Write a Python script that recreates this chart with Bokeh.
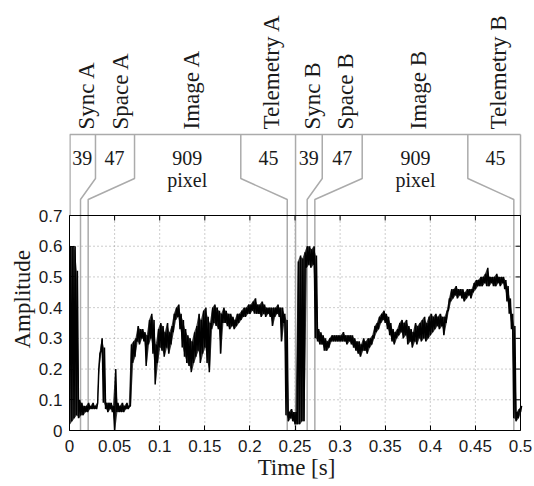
import math
from bokeh.plotting import figure
from bokeh.models import Range1d, FixedTicker, Title
from bokeh.embed import file_html
from bokeh.resources import INLINE
from bokeh.core.properties import value

# ---------------- data ----------------
t_step = 0.0025
amp_lo = [0.02, 0.03, 0.04, 0.05, 0.04, 0.05, 0.05, 0.06, 0.06, 0.07,
          0.07, 0.07, 0.07, 0.20, 0.26, 0.09, 0.07, 0.06, 0.07, 0.06,
          0.00, 0.06, 0.06, 0.06, 0.06, 0.07, 0.07, 0.08, 0.22, 0.24,
          0.29, 0.28, 0.30, 0.29, 0.21, 0.28, 0.30, 0.25, 0.15, 0.22,
          0.27, 0.26, 0.24, 0.27, 0.25, 0.28, 0.32, 0.36, 0.37, 0.33,
          0.27, 0.24, 0.22, 0.21, 0.19, 0.22, 0.24, 0.26, 0.22, 0.25,
          0.27, 0.22, 0.19, 0.33, 0.35, 0.34, 0.33, 0.25, 0.35, 0.35,
          0.34, 0.33, 0.34, 0.33, 0.34, 0.35, 0.36, 0.37, 0.37, 0.38,
          0.38, 0.39, 0.38, 0.38, 0.38, 0.37, 0.38, 0.37, 0.38, 0.37,
          0.34, 0.37, 0.38, 0.37, 0.29, 0.35, 0.05, 0.03, 0.04, 0.03,
          0.02, 0.02, 0.02, 0.03, 0.03, 0.53, 0.54, 0.53, 0.54, 0.30,
          0.29, 0.28, 0.28, 0.26, 0.26, 0.27, 0.29, 0.29, 0.29, 0.29,
          0.29, 0.29, 0.29, 0.28, 0.29, 0.28, 0.27, 0.26, 0.25, 0.24,
          0.26, 0.26, 0.25, 0.27, 0.28, 0.30, 0.32, 0.33, 0.35, 0.36,
          0.35, 0.33, 0.31, 0.29, 0.28, 0.30, 0.31, 0.32, 0.30, 0.31,
          0.28, 0.29, 0.27, 0.29, 0.28, 0.30, 0.29, 0.30, 0.29, 0.30,
          0.31, 0.32, 0.33, 0.34, 0.33, 0.34, 0.31, 0.35, 0.39, 0.42,
          0.43, 0.44, 0.43, 0.44, 0.43, 0.42, 0.43, 0.44, 0.43, 0.45,
          0.46, 0.47, 0.47, 0.47, 0.48, 0.47, 0.47, 0.48, 0.47, 0.47,
          0.48, 0.47, 0.48, 0.46, 0.42, 0.38, 0.33, 0.04, 0.03, 0.04,
          0.06]
amp_hi = [0.60, 0.60, 0.60, 0.52, 0.10, 0.09, 0.08, 0.08, 0.09, 0.08,
          0.09, 0.08, 0.09, 0.25, 0.30, 0.27, 0.09, 0.09, 0.09, 0.08,
          0.20, 0.09, 0.08, 0.09, 0.08, 0.09, 0.08, 0.28, 0.29, 0.30,
          0.34, 0.33, 0.33, 0.32, 0.31, 0.36, 0.38, 0.36, 0.28, 0.33,
          0.35, 0.34, 0.32, 0.35, 0.32, 0.34, 0.38, 0.40, 0.41, 0.38,
          0.36, 0.33, 0.31, 0.30, 0.29, 0.32, 0.34, 0.38, 0.36, 0.39,
          0.40, 0.37, 0.35, 0.40, 0.41, 0.40, 0.39, 0.38, 0.40, 0.39,
          0.38, 0.38, 0.37, 0.36, 0.38, 0.38, 0.39, 0.40, 0.40, 0.41,
          0.41, 0.42, 0.43, 0.41, 0.41, 0.42, 0.41, 0.40, 0.40, 0.40,
          0.40, 0.40, 0.41, 0.40, 0.40, 0.38, 0.36, 0.06, 0.07, 0.06,
          0.06, 0.55, 0.57, 0.56, 0.58, 0.60, 0.60, 0.59, 0.60, 0.57,
          0.33, 0.32, 0.31, 0.30, 0.29, 0.30, 0.31, 0.31, 0.31, 0.31,
          0.31, 0.32, 0.31, 0.31, 0.31, 0.31, 0.30, 0.29, 0.29, 0.28,
          0.30, 0.29, 0.30, 0.30, 0.31, 0.34, 0.35, 0.37, 0.38, 0.39,
          0.38, 0.37, 0.35, 0.33, 0.32, 0.33, 0.35, 0.36, 0.35, 0.36,
          0.34, 0.33, 0.32, 0.35, 0.34, 0.35, 0.36, 0.37, 0.35, 0.37,
          0.38, 0.37, 0.38, 0.37, 0.38, 0.37, 0.37, 0.39, 0.43, 0.46,
          0.46, 0.47, 0.46, 0.46, 0.46, 0.45, 0.46, 0.46, 0.46, 0.48,
          0.49, 0.49, 0.50, 0.50, 0.51, 0.53, 0.50, 0.50, 0.50, 0.51,
          0.50, 0.50, 0.50, 0.49, 0.47, 0.43, 0.38, 0.34, 0.06, 0.07,
          0.08]

# APT line format segments
segment_names = ["Sync A", "Space A", "Image A", "Telemetry A",
                 "Sync B", "Space B", "Image B", "Telemetry B"]
pixel_counts = ["39", "47", "909", "45", "39", "47", "909", "45"]
# boundaries: time of the grey marker in the plot, and position of the boundary in the header
boundary_plot_t = [0.0122, 0.0207, 0.2414, 0.2506, 0.2635, 0.2720, 0.4926]
boundary_head_t = [0.0288, 0.0721, 0.1899, 0.2506, 0.2802, 0.3245, 0.4416]
name_t = [0.0193, 0.0569, 0.1358, 0.2239, 0.2694, 0.3060, 0.3865, 0.4752]
count_t = [0.0141, 0.0499, 0.1305, 0.2206, 0.2653, 0.3023, 0.3836, 0.4723]

x_ticks = [0, 0.05, 0.1, 0.15, 0.2, 0.25, 0.3, 0.35, 0.4, 0.45, 0.5]
x_tick_labels = ["0", "0.05", "0.1", "0.15", "0.2", "0.25", "0.3", "0.35", "0.4", "0.45", "0.5"]
y_ticks = [0, 0.1, 0.2, 0.3, 0.4, 0.5, 0.6, 0.7]
y_tick_labels = ["0", "0.1", "0.2", "0.3", "0.4", "0.5", "0.6", "0.7"]

# ---------------- layout ----------------
W, H = 534, 486
BORDER_L, BORDER_R, BORDER_B = 69, 11, 56
FRAME_H = H - BORDER_B
FRAME_W = W - BORDER_L - BORDER_R
BOX_TOP = 215          # canvas y of the top edge of the amplitude box
BOX_W = 451            # pixel width of the 0..0.5 s box
PLOT_PX = FRAME_H - BOX_TOP   # pixel height of the 0..0.7 amplitude box
X_MAX = 0.5
Y_MAX = 0.7
u = Y_MAX / PLOT_PX    # amplitude units per pixel
v = X_MAX / BOX_W      # seconds per pixel
Y_TOP = u * FRAME_H
X_END = v * FRAME_W
HEAD_TOP = Y_MAX + 81 * u
SLANT_HI = Y_MAX + 37 * u
SLANT_LO = Y_MAX + 16 * u
NAME_BASE = Y_MAX + 86 * u
COUNT_Y = Y_MAX + 58 * u
PIXEL_Y = Y_MAX + 36 * u
TICK = 5

SERIF = "Liberation Serif"
SANS = "Liberation Sans"
GREY = "#ababab"
DOT = "#9a9a9a"
INK = "#1a1a1a"

p = figure(width=W, height=H, x_range=Range1d(0, X_END), y_range=Range1d(0, Y_TOP),
           output_backend="svg", toolbar_location=None,
           min_border_left=BORDER_L, min_border_right=BORDER_R, min_border_top=0,
           min_border_bottom=BORDER_B)
p.outline_line_color = None
p.background_fill_color = "white"
p.border_fill_color = "white"
p.xgrid.visible = False
p.ygrid.visible = False

# axes
for ax in (p.xaxis[0], p.yaxis[0]):
    ax.major_tick_in = TICK
    ax.major_tick_out = 0
    ax.minor_tick_line_color = None
    ax.axis_line_color = "black"
    ax.major_tick_line_color = "black"
    ax.major_label_text_font = SANS
    ax.major_label_text_font_size = "17px"
    ax.major_label_text_color = INK
p.xaxis[0].ticker = FixedTicker(ticks=x_ticks)
p.xaxis[0].major_label_overrides = dict(zip(x_ticks, x_tick_labels))
p.xaxis[0].bounds = (0, X_MAX)
p.xaxis[0].major_label_standoff = 9
p.xaxis[0].axis_label = "Time [s]"
p.xaxis[0].axis_label_standoff = 0
p.xaxis[0].axis_label_text_font = SERIF
p.xaxis[0].axis_label_text_font_size = "23px"
p.xaxis[0].axis_label_text_font_style = "normal"
p.xaxis[0].axis_label_text_color = INK
p.yaxis[0].ticker = FixedTicker(ticks=y_ticks)
p.yaxis[0].major_label_overrides = dict(zip(y_ticks, y_tick_labels))
p.yaxis[0].bounds = (0, Y_MAX)
p.yaxis[0].major_label_standoff = 7

# y axis title, placed by its offset from the bottom of the frame
p.add_layout(Title(text="Amplitude", align="left", offset=FRAME_H - 348, standoff=2,
                   text_font=SERIF, text_font_size="23px", text_font_style="normal",
                   text_color=INK), "left")

# dotted grid, limited to the amplitude box
xg = x_ticks[1:-1]
p.segment(x0=xg, y0=[0] * len(xg), x1=xg, y1=[Y_MAX] * len(xg),
          line_color=DOT, line_dash="1 3", line_width=1)
yg = y_ticks[1:-1]
p.segment(x0=[0] * len(yg), y0=yg, x1=[X_MAX] * len(yg), y1=yg,
          line_color=DOT, line_dash="1 3", line_width=1)

# header box
p.segment(x0=[0, 0, X_MAX], y0=[HEAD_TOP, Y_MAX, Y_MAX], x1=[X_MAX, 0, X_MAX],
          y1=[HEAD_TOP, HEAD_TOP, HEAD_TOP], line_color=GREY, line_width=[1.5, 2.5, 1.5])

# boundary markers (plot -> header)
xs = [[b, b, h, h] for b, h in zip(boundary_plot_t, boundary_head_t)]
ys = [[0, SLANT_LO, SLANT_HI, HEAD_TOP] for _ in boundary_plot_t]
p.multi_line(xs=xs, ys=ys, line_color=GREY, line_width=1.5)

# top and right border of the amplitude box with inward ticks
p.segment(x0=[0, X_MAX], y0=[Y_MAX, 0], x1=[X_MAX, X_MAX], y1=[Y_MAX, Y_MAX],
          line_color="black", line_width=1)
p.segment(x0=x_ticks, y0=[Y_MAX] * len(x_ticks), x1=x_ticks, y1=[Y_MAX - TICK * u] * len(x_ticks),
          line_color="black", line_width=1)
p.segment(x0=[X_MAX] * len(y_ticks), y0=y_ticks, x1=[X_MAX - TICK * v] * len(y_ticks), y1=y_ticks,
          line_color="black", line_width=1)

# signal: envelope shading plus the oscillating trace between the envelopes
tc = [i * t_step + t_step / 4 for i in range(len(amp_lo))]
p.varea(x=tc, y1=amp_lo, y2=amp_hi, fill_color="black", fill_alpha=0.75)
ts, amps = [], []
for i, (lo, hi) in enumerate(zip(amp_lo, amp_hi)):
    ts += [i * t_step, i * t_step + t_step / 2]
    amps += [lo, hi]
p.line(ts, amps, line_color="black", line_width=1.5)

# header texts
p.text(x=name_t, y=[NAME_BASE] * len(name_t), text=segment_names, angle=math.pi / 2,
       text_font=value(SERIF), text_font_size="23px", text_align="left", text_baseline="middle",
       text_color=INK)
p.text(x=count_t, y=[COUNT_Y] * len(count_t), text=pixel_counts,
       text_font=value(SERIF), text_font_size="20px", text_align="center", text_baseline="middle",
       text_color=INK)
p.text(x=[count_t[2], count_t[6]], y=[PIXEL_Y, PIXEL_Y], text=["pixel", "pixel"],
       text_font=value(SERIF), text_font_size="20px", text_align="center", text_baseline="middle",
       text_color=INK)

open("out.html", "w").write(file_html(p, INLINE))
